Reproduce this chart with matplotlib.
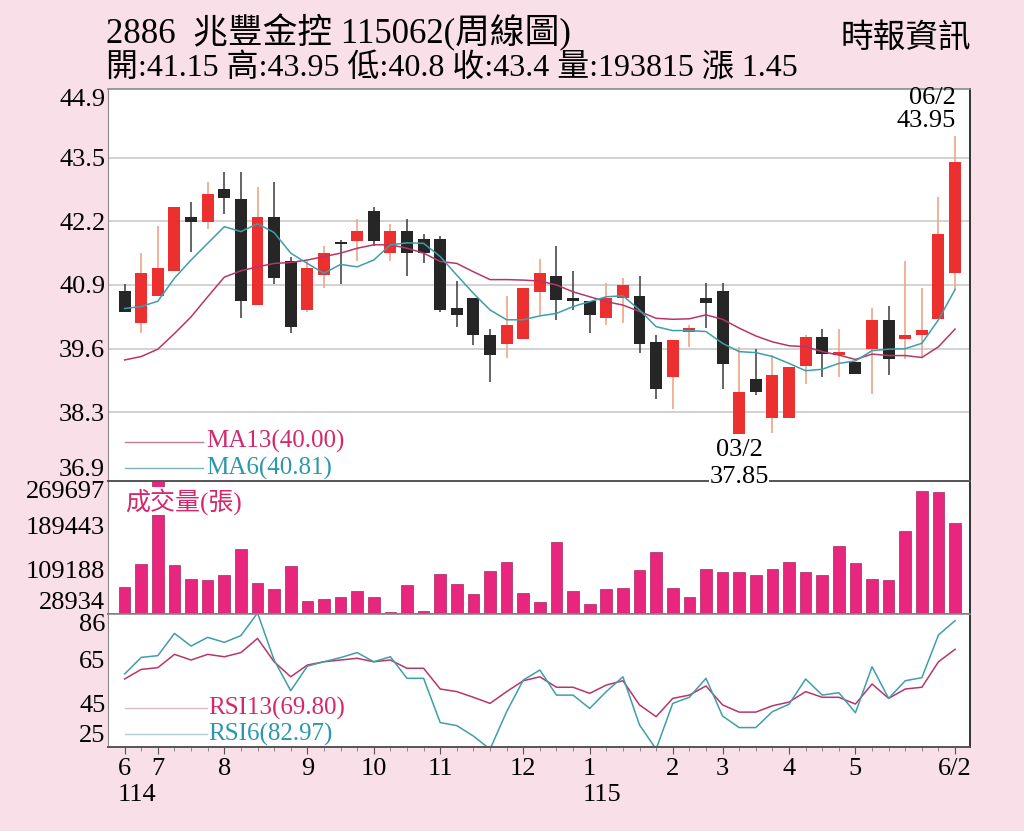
import numpy as np
import matplotlib.pyplot as plt

plt.rcParams['font.family'] = ['Liberation Serif', 'Noto Sans CJK TC']

# weekly candles (114/6 .. 115/6)
opens = [40.78, 40.13, 40.68, 41.19, 42.29, 42.19, 42.86, 42.66, 40.49, 42.29,
         41.38, 40.39, 41.10, 41.75, 41.80, 42.40, 41.56, 42.00, 41.84, 41.84,
         40.44, 40.63, 39.88, 39.70, 39.79, 40.75, 41.09, 40.63, 40.58, 40.23,
         40.63, 40.68, 39.73, 39.03, 39.95, 40.63, 40.78, 37.85, 38.98, 38.18,
         38.18, 39.25, 39.83, 39.47, 39.32, 39.59, 40.19, 39.79, 39.88, 40.20, 41.15]
highs = [40.93, 41.55, 42.11, 42.49, 42.59, 43.01, 43.21, 43.21, 42.91, 43.01,
         41.48, 41.38, 41.70, 41.81, 42.25, 42.50, 42.15, 42.25, 41.94, 41.89,
         40.99, 40.63, 40.00, 40.68, 40.83, 41.44, 41.70, 41.19, 40.58, 40.95,
         41.04, 41.09, 39.88, 39.78, 40.08, 40.95, 40.95, 39.64, 39.59, 39.47,
         39.22, 39.88, 40.00, 40.00, 39.32, 40.44, 40.48, 41.39, 40.83, 42.70, 43.95]
lows = [40.34, 39.93, 40.68, 41.19, 41.58, 42.04, 42.34, 40.22, 40.49, 40.93,
        39.93, 40.34, 40.83, 40.93, 41.39, 41.70, 41.39, 41.09, 41.34, 40.34,
        40.04, 39.68, 38.93, 39.42, 39.79, 40.29, 40.19, 40.39, 39.93, 40.08,
        40.13, 39.52, 38.57, 38.36, 39.64, 40.02, 38.77, 37.85, 38.66, 37.87,
        38.18, 38.88, 39.03, 39.03, 39.08, 38.67, 39.06, 39.39, 39.42, 40.20, 40.80]
closes = [40.34, 41.15, 41.25, 42.49, 42.19, 42.75, 42.67, 40.58, 42.29, 41.04,
          40.04, 41.24, 41.55, 41.73, 42.00, 41.80, 42.00, 41.56, 41.56, 40.39,
          40.29, 39.88, 39.47, 40.08, 40.83, 41.15, 40.59, 40.58, 40.29, 40.63,
          40.89, 39.69, 38.77, 39.78, 40.03, 40.54, 39.29, 38.72, 38.72, 39.06,
          39.22, 39.83, 39.49, 39.53, 39.08, 40.19, 39.39, 39.87, 39.98, 41.95, 43.40]
ma6 = [40.42, 40.46, 40.57, 41.04, 41.41, 41.75, 42.09, 41.99, 42.15, 41.97,
       41.55, 41.34, 41.14, 41.32, 41.27, 41.41, 41.72, 41.76, 41.75, 41.48,
       41.10, 40.73, 40.39, 40.19, 40.19, 40.27, 40.32, 40.46, 40.56, 40.66,
       40.68, 40.39, 40.05, 39.97, 39.97, 39.95, 39.71, 39.54, 39.52, 39.44,
       39.30, 39.15, 39.18, 39.30, 39.35, 39.56, 39.59, 39.60, 39.71, 40.19, 40.81]
ma13 = [39.37, 39.44, 39.59, 39.91, 40.25, 40.66, 41.06, 41.19, 41.27, 41.34,
        41.36, 41.41, 41.48, 41.55, 41.65, 41.72, 41.72, 41.65, 41.55, 41.38,
        41.34, 41.17, 41.01, 41.01, 41.00, 40.98, 40.90, 40.76, 40.66, 40.56,
        40.49, 40.36, 40.22, 40.20, 40.21, 40.29, 40.20, 40.02, 39.86, 39.74,
        39.66, 39.64, 39.54, 39.47, 39.38, 39.49, 39.46, 39.46, 39.42, 39.64, 40.00]
volume = [78400, 118900, 269697, 117600, 91700, 90500, 99500, 146000, 84400, 74800,
          116400, 53000, 56100, 59100, 71100, 59700, 31900, 80800, 34900, 101900,
          83800, 65700, 106200, 123600, 66900, 50700, 159800, 70000, 46400, 74800,
          76000, 108600, 141700, 76500, 59100, 110900, 105500, 105500, 99500, 110900,
          123600, 105500, 100000, 152600, 120600, 92300, 90500, 179200, 251600, 249200, 193815]
rsi6 = [58.5, 66.1, 66.9, 77.1, 71.3, 75.3, 73.0, 76.1, 86.5, 64.9,
        50.8, 62.1, 64.1, 66.0, 68.3, 64.1, 66.4, 56.5, 56.5, 36.2,
        34.8, 30.0, 24.0, 41.2, 55.7, 60.3, 48.8, 48.8, 42.7, 50.4,
        57.2, 35.1, 24.0, 45.0, 47.8, 56.5, 39.2, 33.9, 33.9, 41.2,
        44.6, 56.2, 48.8, 49.9, 40.7, 61.8, 47.3, 55.4, 56.8, 76.4, 82.97]
rsi13 = [56.2, 60.6, 61.4, 67.5, 64.9, 67.5, 66.4, 68.3, 74.8, 64.1,
         57.2, 62.6, 64.1, 64.9, 65.7, 64.1, 64.9, 61.1, 61.1, 51.6,
         50.4, 47.8, 45.0, 50.4, 55.4, 57.2, 52.4, 52.4, 49.6, 53.4,
         55.4, 44.3, 38.9, 47.3, 48.8, 53.0, 44.3, 41.0, 41.0, 43.9,
         45.6, 50.4, 47.8, 47.8, 44.7, 53.9, 47.3, 51.6, 52.4, 64.1, 69.80]

price_ticks = [36.9, 38.3, 39.6, 40.9, 42.2, 43.5, 44.9]
vol_ticks = [28934, 109188, 189443, 269697]
rsi_ticks = [25, 45, 65, 86]
month_pos = [0, 2, 6, 11, 15, 19, 24, 28, 33, 36, 40, 44, 50]
month_lbl = ['6', '7', '8', '9', '10', '11', '12', '1', '2', '3', '4', '5', '6/2']
year_pos = [0, 28]
year_lbl = ['114', '115']

bg = '#f9dfe8'
red = '#ec2f2f'
blk = '#262626'
pink = '#d4286c'
teal = '#2b97ad'
ma13_col = '#b8356a'
ma6_col = '#3e9eac'
volc = '#e8267e'

x = np.arange(len(closes))
fig = plt.figure(figsize=(10.24, 8.31), dpi=100, facecolor=bg)
ax1 = fig.add_axes([0.1055, 0.4212, 0.8418, 0.4717])
ax2 = fig.add_axes([0.1055, 0.2611, 0.8418, 0.1601])
ax3 = fig.add_axes([0.1055, 0.1011, 0.8418, 0.1600])
ax1.set_zorder(3)

for ax in (ax1, ax2, ax3):
    ax.set_xlim(-1.0, 50.9)
    ax.tick_params(axis='y', length=0, pad=2, labelsize=19)
    for s in ('left', 'top'):
        ax.spines[s].set_color('#8a8a8a')
    ax.spines['right'].set_color('#333333')
    ax.spines['right'].set_linewidth(1.4)
    ax.spines['bottom'].set_color('#555555')
    ax.spines['bottom'].set_linewidth(1.4)
    ax.spines['top'].set_linewidth(1.2)

# ---- price panel
ax1.set_ylim(price_ticks[0], price_ticks[-1])
for p in price_ticks[1:-1]:
    ax1.axhline(p, color='#cfcfcf', lw=1.3, zorder=0)
o = np.array(opens); c = np.array(closes)
up = c >= o
body_lo = np.minimum(o, c)
body_h = np.maximum(np.abs(c - o), 0.04)
wick_col = np.where(up, '#eea58a', '#4a4a4a')
ax1.vlines(x, lows, highs, colors=wick_col, lw=1.2, zorder=2)
ax1.bar(x, body_h, bottom=body_lo, width=0.72,
        color=np.where(up, red, blk), zorder=3)
ax1.plot(x, ma13, color=ma13_col, lw=1.1, zorder=4)
ax1.plot(x, ma6, color=ma6_col, lw=1.1, zorder=4)
ax1.set_xticks([])
ax1.set_yticks(price_ticks)
ax1.set_yticklabels([f'{p:.1f}' for p in price_ticks])
lbls = ax1.get_yticklabels()
lbls[0].set_va('bottom'); lbls[-1].set_va('top')

ax1.plot([0.02, 0.11], [0.10, 0.10], transform=ax1.transAxes, color='#c87a98', lw=1.0)
ax1.plot([0.02, 0.11], [0.033, 0.033], transform=ax1.transAxes, color='#7ab3c0', lw=1.0)
ax1.text(0.114, 0.10, f'MA13({ma13[-1]:.2f})', transform=ax1.transAxes, color=pink,
         fontsize=18, va='center', ha='left')
ax1.text(0.114, 0.033, f'MA6({ma6[-1]:.2f})', transform=ax1.transAxes, color=teal,
         fontsize=18, va='center', ha='left')

hi_i = int(np.argmax(highs)); lo_i = int(np.argmin(lows))
ax1.text(hi_i + 0.05, 44.72, '06/2', ha='right', va='center', fontsize=19)
ax1.text(hi_i + 0.05, 44.25, f'{highs[hi_i]:.2f}', ha='right', va='center', fontsize=19)
ax1.text(lo_i, 37.53, '03/2', ha='center', va='center', fontsize=19)
ax1.text(lo_i, 36.98, f'{lows[lo_i]:.2f}', ha='center', va='center', fontsize=19,
         clip_on=False, zorder=10,
         bbox=dict(facecolor='white', edgecolor='none', pad=0.3))

# ---- volume panel
ax2.bar(x, volume, width=0.7, color=volc, edgecolor='#a02a5a', lw=0.5, zorder=2)
ax2.set_ylim(vol_ticks[0], vol_ticks[-1])
ax2.set_xticks([])
ax2.set_yticks(vol_ticks)
ax2.set_yticklabels([str(v) for v in vol_ticks])
lbls = ax2.get_yticklabels()
lbls[0].set_va('bottom'); lbls[-1].set_va('top')
ax2.text(0.02, 0.95, '成交量(張)', transform=ax2.transAxes, color=pink, fontsize=18,
         va='top', ha='left', zorder=5,
         bbox=dict(facecolor='white', edgecolor='none', pad=0.5))

# ---- RSI panel
ax3.plot(x, rsi13, color=ma13_col, lw=1.1)
ax3.plot(x, rsi6, color=ma6_col, lw=1.1)
ax3.set_ylim(rsi_ticks[0], rsi_ticks[-1])
ax3.set_yticks(rsi_ticks)
ax3.set_yticklabels([str(v) for v in rsi_ticks])
lbls = ax3.get_yticklabels()
lbls[0].set_va('bottom'); lbls[-1].set_va('top')
ax3.plot([0.02, 0.115], [0.293, 0.293], transform=ax3.transAxes, color='#e2b8c6', lw=1.0)
ax3.plot([0.02, 0.115], [0.098, 0.098], transform=ax3.transAxes, color='#b2cdd4', lw=1.0)
ax3.text(0.116, 0.293, f'RSI13({rsi13[-1]:.2f})', transform=ax3.transAxes, color=pink,
         fontsize=18, va='center', ha='left')
ax3.text(0.116, 0.098, f'RSI6({rsi6[-1]:.2f})', transform=ax3.transAxes, color=teal,
         fontsize=18, va='center', ha='left')
ax3.set_xticks(month_pos)
ax3.set_xticklabels(month_lbl)
ax3.set_xticks(x, minor=True)
ax3.tick_params(axis='x', which='major', length=5, color='#555555', labelsize=19, pad=3)
ax3.tick_params(axis='x', which='minor', length=3, color='#777777')
for p, t in zip(year_pos, year_lbl):
    ax3.text(p - 0.4, -0.36, t, transform=ax3.get_xaxis_transform(), ha='left',
             va='center', fontsize=19)

# ---- header
fig.text(0.1035, 0.961, '2886  兆豐金控 115062(周線圖)', fontsize=25, va='center', ha='left')
fig.text(0.1035, 0.918, f'開:{opens[-1]:.2f} 高:{highs[-1]:.2f} 低:{lows[-1]:.1f} '
         f'收:{closes[-1]:.1f} 量:{volume[-1]} 漲 {closes[-1] - closes[-2]:.2f}',
         fontsize=23, va='center', ha='left')
fig.text(0.948, 0.954, '時報資訊', fontsize=23.5, va='center', ha='right')

fig.savefig('out.png', dpi=100, facecolor=bg)
